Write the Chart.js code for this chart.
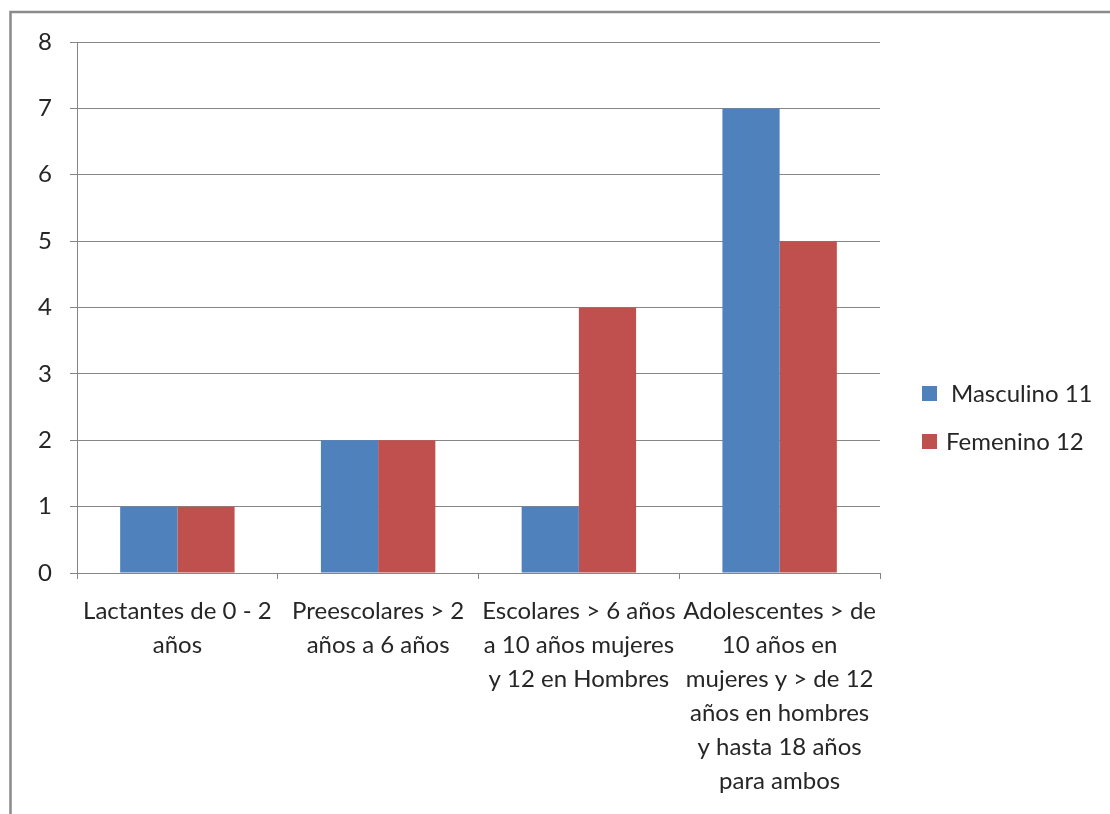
<!DOCTYPE html>
<html>
<head>
<meta charset="utf-8">
<script src="https://cdn.jsdelivr.net/npm/chart.js@4/dist/chart.umd.min.js"></script>
<style>
  html, body { margin: 0; padding: 0; background: #ffffff; }
  #wrap { position: relative; width: 1110px; height: 814px; }
</style>
</head>
<body>
<div id="wrap"><canvas id="c" width="1110" height="814"></canvas></div>
<script>
// Age groups (wrapped over several lines as in the category axis)
const categories = [
  ["Lactantes de 0 - 2", "años"],
  ["Preescolares > 2", "años a 6 años"],
  ["Escolares > 6 años", "a 10 años mujeres", "y 12 en Hombres"],
  ["Adolescentes > de", "10 años en", "mujeres y > de 12", "años en hombres", "y hasta 18 años", "para ambos"]
];
const seriesNames = ["Masculino 11", "Femenino 12"];
const masculino = [1, 2, 1, 7];
const femenino = [1, 2, 4, 5];
const yTicks = [0, 1, 2, 3, 4, 5, 6, 7, 8];

const FONT = "Lato, 'Liberation Sans', sans-serif";
const TEXT = "#262626";
const GRID = "#868686";
const colors = ["#4F81BD", "#C0504D"];

// Outer frame of the chart object (only top and left edges fall inside the view)
const framePlugin = {
  id: "frame",
  beforeDraw(chart) {
    const ctx = chart.ctx;
    ctx.save();
    ctx.strokeStyle = "#8a8a8a";
    ctx.lineWidth = 2.5;
    ctx.beginPath();
    ctx.moveTo(10.5, 820);
    ctx.lineTo(10.5, 12);
    ctx.lineTo(1120, 12);
    ctx.stroke();
    ctx.restore();
  }
};

// Legend drawn at the right of the plot
const sideLegend = {
  id: "sideLegend",
  afterDraw(chart) {
    const ctx = chart.ctx;
    ctx.save();
    ctx.font = "24px " + FONT;
    ctx.textBaseline = "middle";
    ctx.fillStyle = TEXT;
    const rows = [
      { y: 393, textX: 951 },
      { y: 441, textX: 946 }
    ];
    chart.data.datasets.forEach((ds, i) => {
      const r = rows[i];
      ctx.fillStyle = ds.backgroundColor;
      ctx.fillRect(922, r.y - 7, 15, 15);
      ctx.fillStyle = TEXT;
      ctx.fillText(ds.label, r.textX, r.y + 1);
    });
    ctx.restore();
  }
};

new Chart(document.getElementById("c"), {
  type: "bar",
  data: {
    labels: categories,
    datasets: [
      { label: seriesNames[0], data: masculino, backgroundColor: colors[0] },
      { label: seriesNames[1], data: femenino, backgroundColor: colors[1] }
    ]
  },
  options: {
    responsive: false,
    animation: false,
    devicePixelRatio: 1,
    layout: { padding: { top: 42, right: 230, left: 0, bottom: 0 } },
    plugins: { legend: { display: false }, tooltip: { enabled: false } },
    datasets: { bar: { categoryPercentage: 0.57, barPercentage: 1.0 } },
    scales: {
      x: {
        offset: true,
        grid: { display: true, drawOnChartArea: false, drawTicks: true, tickLength: 6, color: GRID, offset: true },
        border: { display: true, color: GRID, width: 1 },
        ticks: {
          color: TEXT, font: { family: FONT, size: 24, lineHeight: 1.42 },
          maxRotation: 0, minRotation: 0, autoSkip: false, padding: 15
        },
        afterFit(scale) { scale.height = 814 - 573; }
      },
      y: {
        min: 0, max: 8,
        afterBuildTicks(scale) { scale.ticks = yTicks.map(v => ({ value: v })); },
        grid: { color: GRID, tickLength: 7, drawTicks: true },
        border: { display: true, color: GRID, width: 1 },
        ticks: { color: TEXT, font: { family: FONT, size: 24 }, padding: 18 },
        afterFit(scale) { scale.width = 77; }
      }
    }
  },
  plugins: [framePlugin, sideLegend]
});
</script>
</body>
</html>
